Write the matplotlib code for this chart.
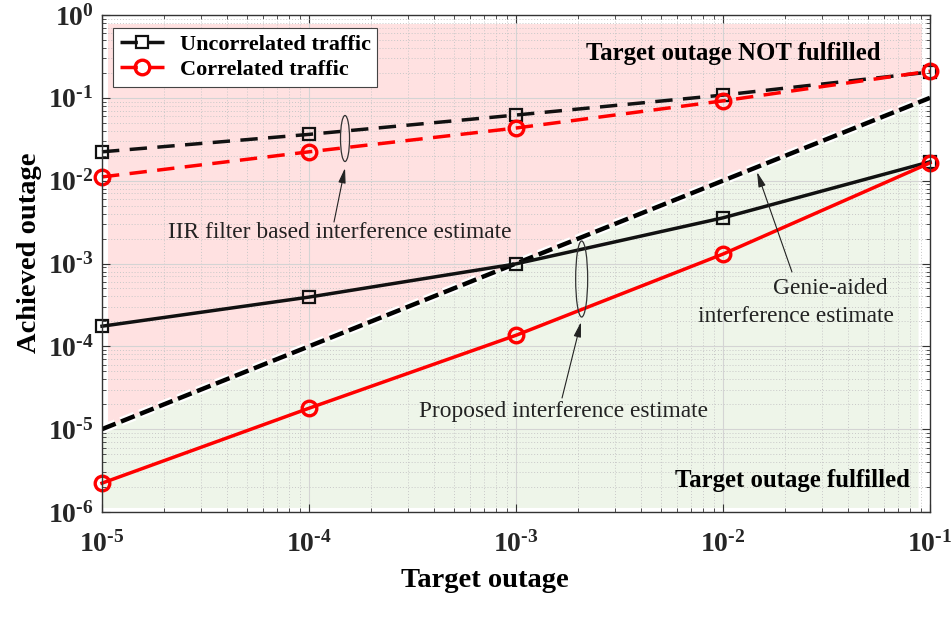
import numpy as np
import matplotlib
matplotlib.use("Agg")
import matplotlib.pyplot as plt
from matplotlib.patches import Ellipse
import matplotlib.patheffects as pe
from matplotlib.ticker import LogLocator, NullFormatter, FuncFormatter

plt.rcParams['font.family'] = ['Liberation Serif', 'DejaVu Serif']
plt.rcParams['mathtext.fontset'] = 'custom'
plt.rcParams['mathtext.rm'] = 'Liberation Serif:bold'
plt.rcParams['mathtext.it'] = 'Liberation Serif:bold'
plt.rcParams['mathtext.bf'] = 'Liberation Serif:bold'

# ---- data ----
target = [1e-5, 1e-4, 1e-3, 1e-2, 1e-1]
iir_uncorr = [0.0223, 0.0362, 0.062, 0.108, 0.205]
iir_corr = [0.0111, 0.0223, 0.0432, 0.092, 0.21]
prop_uncorr = [1.75e-4, 3.93e-4, 9.9e-4, 3.56e-3, 0.0169]
prop_corr = [2.23e-6, 1.79e-5, 1.36e-4, 1.3e-3, 0.0164]
genie_x = [1e-5, 1e-1]
genie_y = [1e-5, 1e-1]
legend_labels = ['Uncorrelated traffic', 'Correlated traffic']

fig = plt.figure(figsize=(9.51, 6.17), dpi=100)
ax = fig.add_axes([102/951, 105/617, 828/951, 497/617])
ax.set_xscale('log')
ax.set_yscale('log')
ax.set_xlim(1e-5, 1e-1)
ax.set_ylim(1e-6, 1e0)

# shaded regions
xl, xr_p, xr_g = 1.07e-5, 0.091, 0.088
ytop, ybot = 0.78, 1.12e-6
ax.fill([xl, xl, xr_p, xr_p], [xl, ytop, ytop, xr_p], color='#ffe1e1', lw=0, zorder=0.2)
ax.fill([1e-5, xr_g, xr_g, 1e-5], [1e-5, xr_g, ybot, ybot], color='#eef5e9', lw=0, zorder=0.2)

# grid
ax.grid(True, which='major', color='#d4d4d4', lw=0.8, ls='-', zorder=1)
ax.grid(True, which='minor', color='#c8c8c8', lw=0.7, ls=(0, (1, 2)), zorder=1)

# diagonal
ax.plot(genie_x, genie_y, color='k', lw=3.2, ls=(0, (3.3, 1.3)), zorder=3,
        path_effects=[pe.Stroke(linewidth=6.5, foreground='white'), pe.Normal()])

ax.plot(target, prop_uncorr, color='#111111', lw=2.5, marker='s', ms=8, mfc='none',
        mec='#111111', mew=1.6, zorder=4, clip_on=False)
ax.plot(target, prop_corr, color='red', lw=2.5, marker='o', ms=10.5, mfc='none',
        mec='red', mew=2.4, zorder=4, clip_on=False)
l1, = ax.plot(target, iir_uncorr, color='#111111', lw=2.5, ls=(0, (5, 3)), marker='s', ms=8,
              mfc='none', mec='#111111', mew=1.6, zorder=4, clip_on=False)
l2, = ax.plot(target, iir_corr, color='red', lw=2.5, ls=(0, (5, 3)), marker='o', ms=10.5,
              mfc='none', mec='red', mew=2.4, zorder=4, clip_on=False)

leg = ax.legend([l1, l2], legend_labels, loc='upper left', bbox_to_anchor=(0.0133, 0.974),
                borderaxespad=0,
                prop={'family': 'Liberation Serif', 'weight': 'bold', 'size': 16},
                fancybox=False, framealpha=1, edgecolor='#444444', handlelength=2.0,
                borderpad=0.3, labelspacing=0.2, handletextpad=0.7)
leg.get_frame().set_linewidth(0.8)
leg.set_zorder(6)

# ticks
def fmt(v, pos):
    e = int(round(np.log10(v)))
    s = str(e).replace('-', '\u2010')
    return r'$\mathbf{10^{%s}}$' % s

ax.xaxis.set_major_locator(LogLocator(base=10, numticks=10))
ax.yaxis.set_major_locator(LogLocator(base=10, numticks=10))
ax.xaxis.set_minor_locator(LogLocator(base=10, subs=np.arange(2, 10), numticks=20))
ax.yaxis.set_minor_locator(LogLocator(base=10, subs=np.arange(2, 10), numticks=20))
ax.xaxis.set_major_formatter(FuncFormatter(fmt))
ax.yaxis.set_major_formatter(FuncFormatter(fmt))
ax.xaxis.set_minor_formatter(NullFormatter())
ax.yaxis.set_minor_formatter(NullFormatter())
ax.tick_params(which='both', direction='in', top=True, right=True, labelsize=20,
               colors='#333333', labelcolor='#262626')
ax.tick_params(which='major', length=6, width=0.8)
ax.tick_params(which='minor', length=3, width=0.6)
ax.tick_params(axis='x', pad=14)
ax.tick_params(axis='y', pad=6)
for s in ax.spines.values():
    s.set_color('#333333')
    s.set_linewidth(1.0)
    s.set_zorder(7)

ax.set_xlabel('Target outage', fontsize=20.5, fontweight='bold', va='center')
ax.xaxis.set_label_coords(0.4626, -0.137)
ax.set_ylabel('Achieved outage', fontsize=20.5, fontweight='bold', va='center')
ax.yaxis.set_label_coords(-0.087, 0.521)

# ellipses
ax.add_patch(Ellipse((0.2935, 0.7515), 0.0109, 0.0926, transform=ax.transAxes,
                     fill=False, ec='#333333', lw=0.9, zorder=5))
ax.add_patch(Ellipse((0.5793, 0.4688), 0.0145, 0.153, transform=ax.transAxes,
                     fill=False, ec='#333333', lw=0.9, zorder=5))

ap = dict(arrowstyle='-|>,head_length=0.9,head_width=0.22', lw=0.8, color='#222222',
          shrinkA=0, shrinkB=0)
ax.annotate('', xy=(0.2935, 0.6922), xytext=(0.2802, 0.5835), xycoords='axes fraction',
            textcoords='axes fraction', arrowprops=ap, zorder=5)
ax.text(0.2874, 0.5614, 'IIR filter based interference estimate', transform=ax.transAxes,
        ha='center', va='center', fontsize=16.8, color='#222222', zorder=5)
ax.annotate('', xy=(0.5785, 0.3823), xytext=(0.5556, 0.2294), xycoords='axes fraction',
            textcoords='axes fraction', arrowprops=ap, zorder=5)
ax.text(0.5568, 0.2032, 'Proposed interference estimate', transform=ax.transAxes,
        ha='center', va='center', fontsize=16.8, color='#222222', zorder=5)
ax.annotate('', xy=(0.7911, 0.6841), xytext=(0.8333, 0.4829), xycoords='axes fraction',
            textcoords='axes fraction', arrowprops=ap, zorder=5)
ax.text((830 - 102) / 828, (512 - 288) / 497, 'Genie-aided', transform=ax.transAxes,
        ha='center', va='center', fontsize=16.8, color='#222222', zorder=5)
ax.text((796 - 102) / 828, (512 - 316) / 497, 'interference estimate', transform=ax.transAxes,
        ha='center', va='center', fontsize=16.8, color='#222222', zorder=5)

ax.text(0.762, 0.9235, 'Target outage NOT fulfilled', transform=ax.transAxes,
        ha='center', va='center', fontsize=17.8, fontweight='bold', color='k', zorder=5)
ax.text(0.8333, 0.0624, 'Target outage fulfilled', transform=ax.transAxes,
        ha='center', va='center', fontsize=17.8, fontweight='bold', color='k', zorder=5)

fig.savefig('out.png', dpi=100)
